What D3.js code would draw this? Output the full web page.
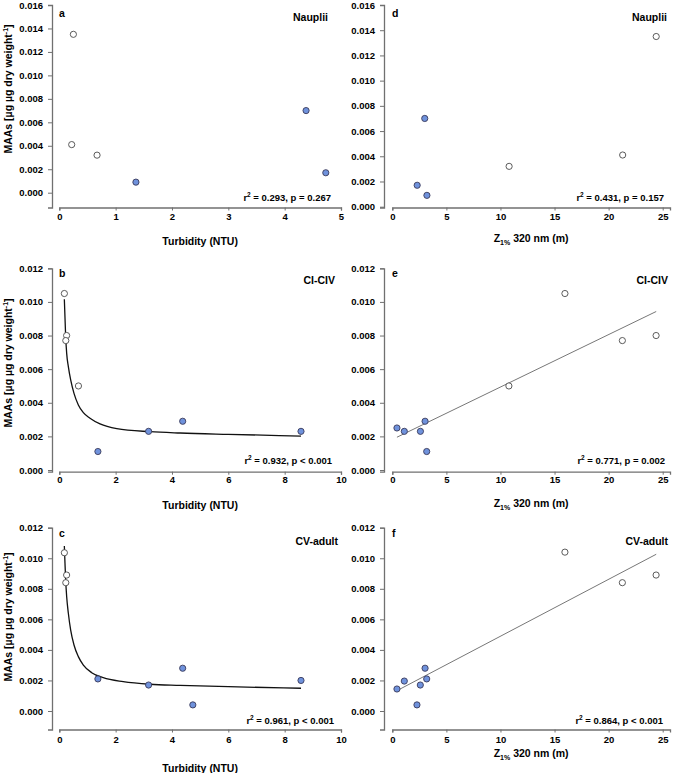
<!DOCTYPE html>
<html><head><meta charset="utf-8">
<script src="https://cdn.jsdelivr.net/npm/d3@7"></script>
<style>
body{margin:0;background:#fff}
text{font-family:"Liberation Sans",Arial,sans-serif;font-weight:bold;fill:#000}
</style>
</head><body><svg id="c" width="675" height="773"></svg>
<script>
// ---------------- data ----------------
const yTicks016 = [0,0.002,0.004,0.006,0.008,0.010,0.012,0.014,0.016];
const yTicks012 = [0,0.002,0.004,0.006,0.008,0.010,0.012];
const xTicksTurb5 = [0,1,2,3,4,5];
const xTicksTurb10 = [0,2,4,6,8,10];
const xTicksZ = [0,5,10,15,20,25];

// a: Nauplii vs turbidity
const aX = [0.25,0.22,0.67,1.36,4.38,4.73];
const aY = [0.0135,0.0041,0.0032,0.0009,0.0070,0.0017];
const aG = ["open","open","open","filled","filled","filled"];
// d: Nauplii vs Z1%
const dX = [24.4,21.3,10.8,3.2,3.0,2.3];
const dY = [0.0135,0.0041,0.0032,0.0009,0.0070,0.0017];
const dG = ["open","open","open","filled","filled","filled"];
// b: CI-CIV vs turbidity
const bX = [0.18,0.26,0.23,0.68,1.37,3.17,4.38,8.58];
const bY = [0.0105,0.0080,0.0077,0.0050,0.0011,0.0023,0.0029,0.0023];
const bG = ["open","open","open","open","filled","filled","filled","filled"];
const bFitX = [0.179,0.226,0.262,0.321,0.404,0.522,0.676,0.854,1.09,1.446,2.04,3.22,4.29,6.0,8.58];
const bFitY = [0.01016,0.00794,0.00694,0.00615,0.00536,0.00456,0.00387,0.00341,0.00308,0.00274,0.00246,0.00228,0.0022,0.00212,0.00202];
// e: CI-CIV vs Z1%
const eX = [0.43,1.11,2.6,3.03,3.18,10.78,15.96,21.27,24.39];
const eY = [0.0025,0.0023,0.0023,0.0029,0.0011,0.0050,0.0105,0.0077,0.0080];
const eG = ["filled","filled","filled","filled","filled","open","open","open","open"];
const eFitX = [0.43,24.4];
const eFitY = [0.00195,0.00943];
// c: CV-adult vs turbidity
const cX = [0.18,0.26,0.23,1.37,3.17,4.38,4.74,8.58];
const cY = [0.01036,0.0089,0.0084,0.0021,0.0017,0.0028,0.0004,0.0020];
const cG = ["open","open","open","filled","filled","filled","filled","filled"];
const cFitX = [0.179,0.202,0.226,0.262,0.321,0.404,0.522,0.676,0.854,1.15,1.56,2.27,3.22,4.29,6.0,8.58];
const cFitY = [0.0108,0.00967,0.00858,0.00748,0.0064,0.0053,0.00432,0.00356,0.00301,0.00251,0.00218,0.00192,0.00175,0.00168,0.00159,0.00149];
// f: CV-adult vs Z1%
const fX = [0.43,1.11,2.28,2.59,3.03,3.18,15.96,21.27,24.39];
const fY = [0.00144,0.00196,0.0004,0.0017,0.0028,0.0021,0.0104,0.0084,0.0089];
const fG = ["filled","filled","filled","filled","filled","filled","open","open","open"];
const fFitX = [0.43,24.4];
const fFitY = [0.00133,0.01026];

const letters = ["a","d","b","e","c","f"];
const groupNames = ["Nauplii","Nauplii","CI-CIV","CI-CIV","CV-adult","CV-adult"];
const statR2 = ["0.293","0.431","0.932","0.771","0.961","0.864"];
const statP = ["= 0.267","= 0.157","< 0.001","= 0.002","< 0.001","< 0.001"];

// ---------------- layout ----------------
const svg = d3.select("#c");
const L = {x0:59.3, x1:341, yAx:52, lblX:59};
const R = {x0:392.3, x1:670, yAx:384, lblX:392};
const rows = [
  {top:5, zero:192.7, bottom:207.5, max:0.016, ticks:yTicks016, tickLblDy:13, titleY:245, ltrY:16.5, grpY:21, statY:200.5},
  {top:268.3, zero:470, bottom:471.7, max:0.012, ticks:yTicks012, tickLblDy:12, titleY:509, ltrY:277, grpY:284, statY:464},
  {top:527.7, zero:711, bottom:729.5, max:0.012, ticks:yTicks012, tickLblDy:14, titleY:771.5, ltrY:537, grpY:545, statY:724}
];

const panels = [
  {col:L,row:0,xs:aX,ys:aY,g:aG,xMax:5,xt:xTicksTurb5,title:"turb",grpEnd:328,statEnd:331},
  {col:R,row:0,xs:dX,ys:dY,g:dG,xMax:25,xt:xTicksZ,title:"z",zeroAtAxis:true,titleY:241.5,grpEnd:667,statEnd:664},
  {col:L,row:1,xs:bX,ys:bY,g:bG,xMax:10,xt:xTicksTurb10,title:"turb",fx:bFitX,fy:bFitY,fitStyle:"curve",grpEnd:335,statEnd:332},
  {col:R,row:1,xs:eX,ys:eY,g:eG,xMax:25,xt:xTicksZ,title:"z",fx:eFitX,fy:eFitY,fitStyle:"line",titleY:506.5,grpEnd:668,statEnd:665},
  {col:L,row:2,xs:cX,ys:cY,g:cG,xMax:10,xt:xTicksTurb10,title:"turb",fx:cFitX,fy:cFitY,fitStyle:"curve",grpEnd:338,statEnd:334},
  {col:R,row:2,xs:fX,ys:fY,g:fG,xMax:25,xt:xTicksZ,title:"z",fx:fFitX,fy:fFitY,fitStyle:"line",titleY:757,grpEnd:668,statEnd:663}
];

const axisColor = "#707070";
const fmtY = d3.format(".3f");

panels.forEach((p,i)=>{
  const col = p.col, row = rows[p.row];
  const zeroPx = p.zeroAtAxis ? row.bottom - 0.8 : row.zero;
  const pxPerUnit = (zeroPx - row.top)/row.max;
  const yMin = -(row.bottom - zeroPx)/pxPerUnit;
  const y = d3.scaleLinear().domain([yMin,row.max]).range([row.bottom,row.top]);
  const x0px = col.x0;
  const unitPx = (p.col===L) ? (col.x1-col.x0)/p.xMax : (662.7-392.3)/25;
  const xEnd = (p.col===L) ? p.xMax : (col.x1 - col.x0)/unitPx;
  const x = d3.scaleLinear().domain([0,xEnd]).range([x0px, x0px+xEnd*unitPx]);

  const g = svg.append("g");
  const ya = g.append("g").attr("transform",`translate(${col.yAx},0)`)
    .call(d3.axisLeft(y).tickValues(row.ticks).tickFormat(fmtY).tickSizeOuter(0).tickSize(4).tickPadding(5));
  const xa = g.append("g").attr("transform",`translate(0,${row.bottom})`)
    .call(d3.axisBottom(x).tickValues(p.xt).tickFormat(d3.format("d")).tickSizeOuter(0).tickSize(3).tickPadding(row.tickLblDy-10));
  [ya,xa].forEach(a=>{
    a.select(".domain").attr("stroke",axisColor).attr("stroke-width",1.3);
    a.selectAll(".tick line").attr("stroke",axisColor).attr("stroke-width",1);
    a.selectAll(".tick text").attr("font-size",9.5).attr("font-family","Liberation Sans, Arial, sans-serif").attr("font-weight","bold").attr("fill","#000");
  });

  if(p.fx){
    const pts = p.fx.map((v,k)=>[v,p.fy[k]]);
    const line = d3.line().x(d=>x(d[0])).y(d=>y(d[1]))
      .curve(p.fitStyle==="curve"?d3.curveMonotoneX:d3.curveLinear);
    g.append("path").attr("d",line(pts)).attr("fill","none")
      .attr("stroke",p.fitStyle==="curve"?"#111":"#777")
      .attr("stroke-width",p.fitStyle==="curve"?1.3:1);
  }
  const data = p.xs.map((v,k)=>({x:v,y:p.ys[k],g:p.g[k]}));
  g.selectAll("circle").data(data).join("circle")
    .attr("cx",d=>x(d.x)).attr("cy",d=>y(d.y)).attr("r",3.1)
    .attr("fill",d=>d.g==="open"?"#fff":"#6f92dc")
    .attr("stroke",d=>d.g==="open"?"#4a4a4a":"#3a3a5a").attr("stroke-width",0.9);

  g.append("text").attr("x",col.lblX).attr("y",row.ltrY).attr("font-size",10.5).text(letters[i]);
  g.append("text").attr("x",p.grpEnd).attr("y",row.grpY).attr("text-anchor","end").attr("font-size",10.5).text(groupNames[i]);
  const st = g.append("text").attr("x",p.statEnd).attr("y",row.statY).attr("text-anchor","end").attr("font-size",9.5);
  st.append("tspan").text("r");
  st.append("tspan").attr("font-size",6.5).attr("dy",-4).text("2");
  st.append("tspan").attr("dy",4).text(` = ${statR2[i]}, p ${statP[i]}`);

  const cx = (x.range()[0]+x.range()[1])/2;
  const ty = p.titleY || row.titleY;
  const t = g.append("text").attr("x",cx).attr("y",ty).attr("text-anchor","middle").attr("font-size",10.5);
  if(p.title==="turb"){ t.text("Turbidity (NTU)"); }
  else {
    t.append("tspan").text("Z");
    t.append("tspan").attr("font-size",7).attr("dy",3).text("1%");
    t.append("tspan").attr("dy",-3).text(" 320 nm (m)");
  }

  if(p.col===L){
    const yc = [89,363,617][p.row];
    const yt = g.append("text").attr("transform",`translate(12,${yc}) rotate(-90)`).attr("text-anchor","middle").attr("font-size",10.5);
    yt.append("tspan").text("MAAs [µg µg dry weight");
    yt.append("tspan").attr("font-size",7).attr("dy",-4).text("-1");
    yt.append("tspan").attr("dy",4).text("]");
  }
});
</script>
</body></html>
